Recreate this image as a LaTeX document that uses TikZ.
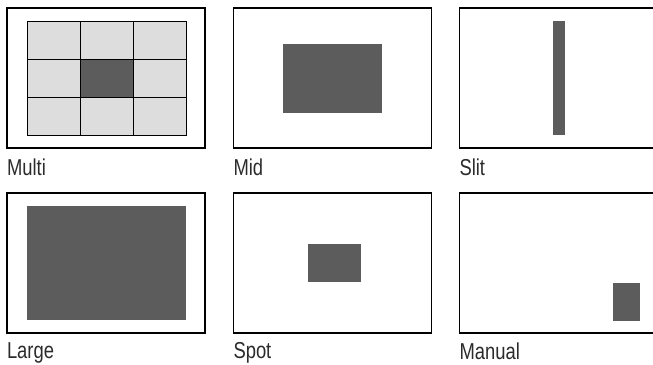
\documentclass[tikz,border=0pt]{standalone}
\usepackage{fontspec}
\setmainfont{Liberation Sans}[FakeStretch=0.8]
\usetikzlibrary{positioning}
\definecolor{zonegray}{HTML}{5C5C5C}
\definecolor{cellgray}{HTML}{DDDDDD}
\definecolor{labelgray}{HTML}{2B2B2B}

\begin{document}
\begin{tikzpicture}[
  x=1pt, y=-1pt,
  every node/.style={inner sep=0pt, outer sep=0pt},
  frame/.style={draw, line width=1.6pt, minimum width=198pt, minimum height=140pt},
  cell/.style={draw, line width=0.9pt, fill=cellgray,
               minimum width=53pt, minimum height=38pt},
  zone/.style={fill=zonegray},
  lbl/.style={text=labelgray, font=\fontsize{23}{27}\selectfont}
]
\useasboundingbox (0,0) rectangle (653,364);
%% top row of frames
\node[frame] (multi) at (106,78) {};
\node[frame, right=28.5pt of multi] (mid) {};
\node[frame, right=28pt of mid] (slit) {};
%% bottom row of frames
\node[frame, below=45pt of multi] (large) {};
\node[frame, right=28.5pt of large] (spot) {};
\node[frame, right=28pt of spot] (manual) {};
%% multi: 3x3 grid, centre cell active
\foreach \i in {-1,0,1}
  \foreach \j in {-1,0,1}
    \node[cell] (cell\i\j) at ([shift={(\i*53pt+1pt,\j*38pt)}]multi.center) {};
\node[cell, fill=zonegray] (active) at ([xshift=1pt]multi.center) {};
%% metering zones
\node[zone, minimum width=99pt, minimum height=69pt] (midzone) at (mid.center) {};
\node[zone, minimum width=12pt, minimum height=114pt] (slitzone) at (slit.center) {};
\node[zone, minimum width=159pt, minimum height=114pt] (largezone) at (large.center) {};
\node[zone, minimum width=53pt, minimum height=38pt] (spotzone) at ([xshift=2pt]spot.center) {};
\node[zone, minimum width=27pt, minimum height=38pt] (manualzone)
  at ([shift={(68pt,-38.5pt)}]manual.center) {};
%% labels
\node[lbl, below right=11pt and 0pt of multi.south west] {Multi};
\node[lbl, below right=11pt and 0pt of mid.south west] {Mid};
\node[lbl, below right=11pt and 0pt of slit.south west] {Slit};
\node[lbl, below right=9.5pt and 0pt of large.south west] {Large};
\node[lbl, below right=9.5pt and 0pt of spot.south west] {Spot};
\node[lbl, below right=9.5pt and 0pt of manual.south west] {Manual};
\end{tikzpicture}
\end{document}
